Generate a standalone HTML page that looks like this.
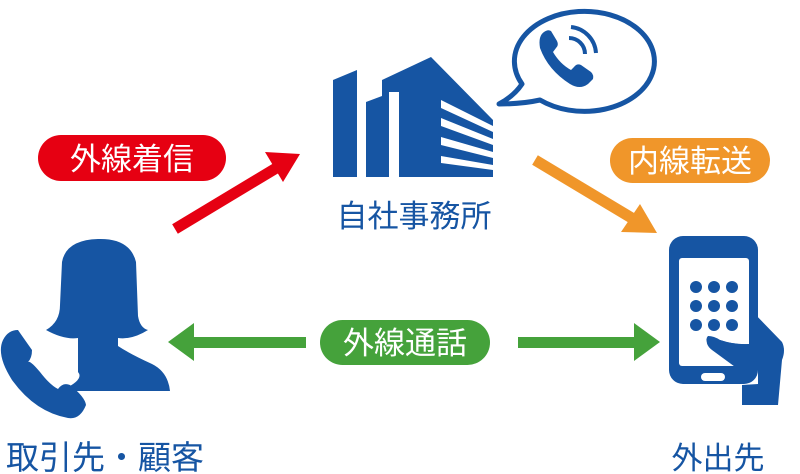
<!DOCTYPE html>
<html><head><meta charset="utf-8"><style>
body{margin:0;background:#fff;}
svg{display:block;}
text{font-family:"Liberation Sans","Noto Sans CJK JP",sans-serif;}
</style></head><body>
<svg width="800" height="474" viewBox="0 0 800 474" xmlns="http://www.w3.org/2000/svg">
<!-- building -->
<g fill="#1655a3">
<polygon points="333,80 357,70 357,177 333,177"/>
<polygon points="366,102 382,96 382,177 366,177"/>
<polygon points="382,80 431,57 493,120 493,177 382,177"/>
</g>
<g fill="#fff">
<polygon points="389,92 399,92 399,177 389,177"/>
<polygon points="441,100 493,126 493,132 441,108"/>
<polygon points="441,118 493,139 493,145 441,126"/>
<polygon points="441,137 493,152 493,158 441,145"/>
<polygon points="441,156 493,165 493,170 441,163"/>
</g>
<text x="414" y="227" font-size="31" fill="#1655a3" text-anchor="middle">自社事務所</text>
<!-- speech bubble -->
<path d="M522,84 A70,50 0 1,1 540,100 Q522,104 499,104 Q514,96 522,84 Z" fill="#fff" stroke="#1655a3" stroke-width="5" stroke-linejoin="round"/>
<path d="M544,32 Q538,36 540,48 Q548,70 570,84 Q580,90 588,84 L593,79 Q594,75 591,72 L581,65 Q577,63 574,67 L571,70 Q560,64 553,52 L556,48 Q559,45 557,41 L551,31 Q548,29 544,32 Z" fill="#1655a3"/>
<path d="M569,38 A16,16 0 0,1 585,54" fill="none" stroke="#1655a3" stroke-width="4"/>
<path d="M571,27 A28,28 0 0,1 596,53" fill="none" stroke="#1655a3" stroke-width="4"/>
<!-- red -->
<rect x="38" y="135" width="188" height="46" rx="23" fill="#e60012"/>
<text x="132" y="170" font-size="31" fill="#fff" text-anchor="middle">外線着信</text>
<line x1="175" y1="229" x2="278" y2="167" stroke="#e60012" stroke-width="11"/>
<polygon points="300,154 265,152 283,182" fill="#e60012"/>
<!-- orange -->
<rect x="610" y="138" width="160" height="45" rx="22.5" fill="#f0962a"/>
<text x="690" y="172" font-size="31" fill="#fff" text-anchor="middle">内線転送</text>
<line x1="535" y1="160" x2="635" y2="220" stroke="#f0962a" stroke-width="11"/>
<polygon points="657,233 621,232 640,204" fill="#f0962a"/>
<!-- green -->
<rect x="320" y="320" width="170" height="45" rx="22.5" fill="#45a23b"/>
<text x="405" y="354" font-size="31" fill="#fff" text-anchor="middle">外線通話</text>
<rect x="190" y="337" width="116" height="11" fill="#45a23b"/>
<polygon points="168,342 194,323 194,361" fill="#45a23b"/>
<rect x="518" y="337" width="120" height="11" fill="#45a23b"/>
<polygon points="660,342 634,323 634,361" fill="#45a23b"/>
<!-- person -->
<g fill="#1655a3">
<path d="M62,262 Q66,240 98,239 Q130,238 136,262 L138,316 Q140,328 148,330 Q132,340 118,338 L118,346 Q130,354 152,364 Q168,372 170,391 L60,391 Q85,380 78,372 L78,338 Q64,340 46,330 Q60,322 60,305 Z"/>
<path d="M3,340 Q-4,355 12,380 Q35,412 68,418 Q80,420 86,405 Q85,397 70,385 Q63,382 58,389 Q50,385 40,372 Q30,360 28,362 Q32,358 32,350 Q20,333 18,330 Q8,330 3,340 Z"/>
</g>
<text x="105" y="469" font-size="33" fill="#1655a3" text-anchor="middle">取引先・顧客</text>
<!-- smartphone -->
<rect x="669" y="236" width="89" height="148" rx="14" fill="#1655a3"/>
<rect x="679" y="258" width="70" height="108" rx="3" fill="#fff"/>
<g fill="#1655a3">
<circle cx="696" cy="287" r="6"/><circle cx="714" cy="287" r="6"/><circle cx="732" cy="287" r="6"/>
<circle cx="696" cy="306" r="6"/><circle cx="714" cy="306" r="6"/><circle cx="732" cy="306" r="6"/>
<circle cx="696" cy="325" r="6"/><circle cx="714" cy="325" r="6"/><circle cx="732" cy="325" r="6"/>
<path d="M749,308 L782,342 Q786,350 782,360 L778,405 L742,405 L742,385 L758,384 L758,362 Q745,362 730,350 L710,346 Q704,340 708,336 Q714,336 720,340 Q735,345 749,344 Z"/>
<path d="M708,336 Q704,344 712,350 L742,372 L749,368 L749,344 Q735,345 720,340 Z"/>
</g>
<rect x="701" y="373" width="24" height="8" rx="4" fill="#fff"/>
<text x="718" y="469" font-size="31" fill="#1655a3" text-anchor="middle">外出先</text>
</svg>
</body></html>
